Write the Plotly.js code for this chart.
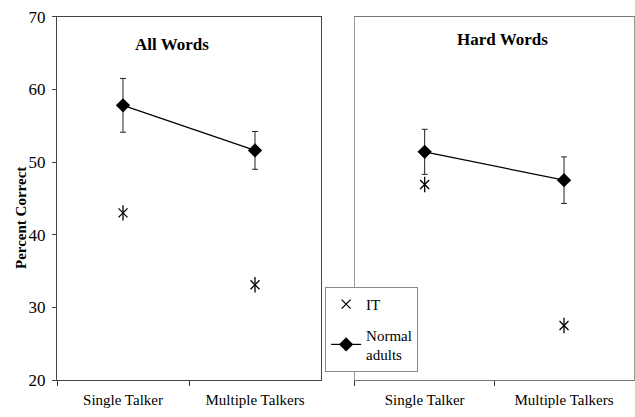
<!DOCTYPE html>
<html>
<head>
<meta charset="utf-8">
<script src="https://cdn.plot.ly/plotly-3.0.1.min.js"></script>
<style>html,body{margin:0;padding:0;background:#fff;}#chart{width:635px;height:417px;}</style>
</head>
<body>
<div id="chart"></div>
<script>
const categories = ["Single Talker", "Multiple Talkers"];
const panelTitles = ["All Words", "Hard Words"];
const normalAll = [57.8, 51.6];
const normalAllErr = [3.7, 2.6];
const itAll = [43.0, 33.1];
const normalHard = [51.4, 47.5];
const normalHardErr = [3.1, 3.2];
const itHard = [46.9, 27.5];
const yTicks = [20, 30, 40, 50, 60, 70];

const font = "'Times New Roman', 'Liberation Serif', serif";

function normalTrace(y, err, xa, ya, show) {
  return {
    x: categories, y: y, xaxis: xa, yaxis: ya, type: "scatter", mode: "lines+markers",
    name: "Normal<br>adults", showlegend: show, legendrank: 2, legendgroup: "normal",
    line: {color: "#000", width: 1.2},
    marker: {symbol: "diamond", size: 11, color: "#000"},
    error_y: {type: "data", array: err, visible: true, color: "#222", thickness: 1, width: 3}
  };
}
function itTraces(y, xa, ya, show) {
  return [
    {x: categories, y: y, xaxis: xa, yaxis: ya, type: "scatter", mode: "markers",
     name: "IT", showlegend: show, legendrank: 1, legendgroup: "it",
     marker: {symbol: "x-thin-open", size: 9, color: "#000", line: {color: "#000", width: 1.3}}},
    {x: categories, y: y, xaxis: xa, yaxis: ya, type: "scatter", mode: "markers",
     showlegend: false, hoverinfo: "skip", legendgroup: "it",
     marker: {symbol: "line-ns-open", size: 11, color: "#000", line: {color: "#000", width: 1.3}}}
  ];
}

const data = [
  ...itTraces(itAll, "x", "y", true),
  normalTrace(normalAll, normalAllErr, "x", "y", true),
  ...itTraces(itHard, "x2", "y2", false),
  normalTrace(normalHard, normalHardErr, "x2", "y2", false)
];

const xBase = {
  type: "category", range: [-0.5, 1.5], tickson: "boundaries", ticks: "outside", ticklen: 5,
  ticklabelstandoff: 6,
  tickcolor: "#333", showline: true, linecolor: "#444", linewidth: 1, mirror: true,
  showgrid: false, zeroline: false, tickfont: {family: font, size: 15, color: "#000"}, fixedrange: true
};
const yBase = {
  range: [20, 70], tickvals: yTicks, showgrid: false, zeroline: false,
  showline: true, linecolor: "#444", linewidth: 1, mirror: true, fixedrange: true
};

const layout = {
  width: 635, height: 417,
  margin: {l: 0, r: 0, t: 0, b: 0},
  paper_bgcolor: "#fff", plot_bgcolor: "#fff",
  showlegend: true,
  font: {family: font, color: "#000"},
  xaxis: Object.assign({}, xBase, {domain: [0.0898, 0.5055], anchor: "y"}),
  xaxis2: Object.assign({}, xBase, {domain: [0.559, 0.998], anchor: "y2", linecolor: "#777"}),
  yaxis: Object.assign({}, yBase, {domain: [0.0887, 0.96], anchor: "x", ticks: "outside", ticklen: 4,
    ticklabelstandoff: 3, tickfont: {family: font, size: 17, color: "#000"}}),
  yaxis2: Object.assign({}, yBase, {domain: [0.0887, 0.96], anchor: "x2", showticklabels: false,
    ticks: "", linecolor: "#999"}),
  legend: {
    x: 0.512, y: 0.312, xanchor: "left", yanchor: "top",
    bgcolor: "#fff", bordercolor: "#888", borderwidth: 1,
    font: {family: font, size: 15, color: "#000"}, itemwidth: 30, tracegroupgap: 8
  },
  annotations: [
    {text: "<b>" + panelTitles[0] + "</b>", xref: "paper", yref: "paper", x: 172/635, y: 1 - 44/417,
     xanchor: "center", yanchor: "middle",
     showarrow: false, font: {family: font, size: 17, color: "#000"}},
    {text: "<b>" + panelTitles[1] + "</b>", xref: "paper", yref: "paper", x: 502/635, y: 1 - 40/417,
     xanchor: "center", yanchor: "middle",
     showarrow: false, font: {family: font, size: 17, color: "#000"}},
    {text: "<b>Percent Correct</b>", xref: "paper", yref: "paper", x: 21/635, y: 1 - 218/417,
     xanchor: "center", yanchor: "middle",
     textangle: -90, showarrow: false, font: {family: font, size: 15, color: "#000"}}
  ]
};

Plotly.newPlot("chart", data, layout, {displayModeBar: false, staticPlot: true});
</script>
</body>
</html>
